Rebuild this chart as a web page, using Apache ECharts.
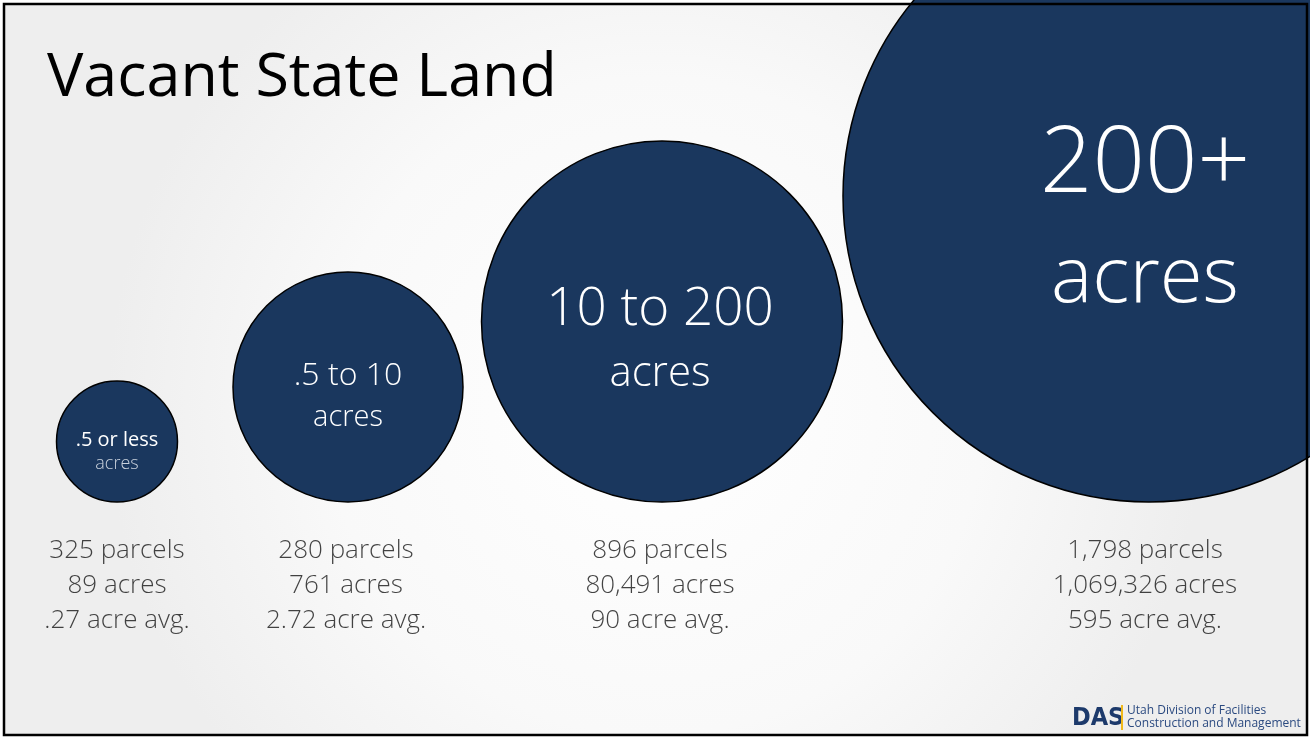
<!DOCTYPE html>
<html>
<head>
<meta charset="utf-8">
<script src="https://cdn.jsdelivr.net/npm/echarts@6/dist/echarts.min.js"></script>
<style>
html,body{margin:0;padding:0;background:#ffffff;}
#chart{width:1310px;height:738px;}
</style>
</head>
<body>
<div id="chart"></div>
<script>
// ---- data ----
var titleText = 'Vacant State Land';
var categoryTop = ['.5 or less', '.5 to 10', '10 to 200', '200+'];
var categoryUnit = ['acres', 'acres', 'acres', 'acres'];
var parcels = ['325', '280', '896', '1,798'];
var acres = ['89', '761', '80,491', '1,069,326'];
var avgAcre = ['.27', '2.72', '90', '595'];
var bubbleDiameter = [121, 230, 361, 612];

// ---- layout (not data) ----
var centerX = [117, 348, 662, 1149];
var bubbleBottom = 502;
var statsCenterX = [117, 346, 660, 1145];
var statsY = 586;
var topFont = [20, 32, 53, 92];
var unitFont = [18, 29, 42, 78];
var lineH = [24, 42, 64, 114];
var labelDx = [0, 0, -2, -4];
var labelDy = [10.5, 10, 20.5, 27];
var topWeight = [400, 300, 300, 300];
var unitColor = ['#c9d1dc', '#ffffff', '#ffffff', '#ffffff'];
var navy = '#1a375e';

var bubbleData = categoryTop.map(function (c, i) {
  return {
    value: [centerX[i], bubbleBottom - bubbleDiameter[i] / 2],
    symbolSize: bubbleDiameter[i],
    label: {
      show: true,
      position: 'inside',
      offset: [labelDx[i], labelDy[i]],
      formatter: '{a|' + c + '}\n{b|' + categoryUnit[i] + '}',
      rich: {
        a: { fontFamily: 'Open Sans', fontWeight: topWeight[i], fontSize: topFont[i], lineHeight: lineH[i], color: '#ffffff', align: 'center' },
        b: { fontFamily: 'Open Sans', fontWeight: 300, fontSize: unitFont[i], lineHeight: lineH[i], color: unitColor[i], align: 'center' }
      }
    }
  };
});

var statsData = categoryTop.map(function (c, i) {
  return {
    value: [statsCenterX[i], statsY],
    label: {
      formatter: parcels[i] + ' parcels\n' + acres[i] + ' acres\n' + avgAcre[i] + ' acre avg.'
    }
  };
});

var chart = echarts.init(document.getElementById('chart'), null, { renderer: 'canvas' });
chart.setOption({
  animation: false,
  grid: { left: 4, right: 4, top: 4, bottom: 3, containLabel: false },
  xAxis: { type: 'value', min: 4, max: 1306, show: false },
  yAxis: { type: 'value', min: 4, max: 735, inverse: true, show: false },
  graphic: [
    {
      type: 'rect', z: -10, silent: true,
      shape: { x: 4, y: 4, width: 1303, height: 731 },
      style: {
        fill: new echarts.graphic.RadialGradient(0.5, 0.55, 0.75, [
          { offset: 0, color: '#ffffff' },
          { offset: 0.6, color: '#f9f9f9' },
          { offset: 1, color: '#eeeeee' }
        ])
      }
    },
    {
      type: 'text', z: 10, silent: true,
      x: 47, y: 79,
      style: {
        text: titleText, verticalAlign: 'middle', align: 'left',
        font: '400 61px "Open Sans"', fill: '#000000'
      }
    },
    {
      type: 'text', z: 10, silent: true,
      x: 1072, y: 718,
      style: {
        text: 'DAS', verticalAlign: 'middle', align: 'left',
        font: 'bold 25px "DejaVu Sans Condensed", "DejaVu Sans"', fill: '#1d3a6b'
      }
    },
    {
      type: 'rect', z: 10, silent: true,
      shape: { x: 1121, y: 705, width: 2, height: 25 },
      style: { fill: '#f0b91a' }
    },
    {
      type: 'text', z: 10, silent: true,
      x: 1127, y: 711,
      style: {
        text: 'Utah Division of Facilities', verticalAlign: 'middle', align: 'left',
        font: '400 12px "Open Sans"', fill: '#2b4a80'
      }
    },
    {
      type: 'text', z: 10, silent: true,
      x: 1127, y: 724,
      style: {
        text: 'Construction and Management', verticalAlign: 'middle', align: 'left',
        font: '400 12px "Open Sans"', fill: '#2b4a80'
      }
    },
    {
      type: 'rect', z: 100, silent: true,
      shape: { x: 4, y: 4, width: 1303, height: 731 },
      style: { fill: 'none', stroke: '#000000', lineWidth: 2.5 }
    }
  ],
  series: [
    {
      type: 'scatter',
      clip: true,
      z: 2,
      silent: true,
      itemStyle: { color: navy, borderColor: '#000000', borderWidth: 1.5, opacity: 1 },
      data: bubbleData
    },
    {
      type: 'scatter',
      z: 3,
      silent: true,
      symbolSize: 1,
      itemStyle: { color: 'rgba(0,0,0,0)' },
      label: {
        show: true,
        position: 'inside',
        fontFamily: 'Open Sans',
        fontWeight: 300,
        fontSize: 26,
        lineHeight: 35,
        color: '#141414',
        align: 'center'
      },
      data: statsData
    }
  ]
});
</script>
</body>
</html>
